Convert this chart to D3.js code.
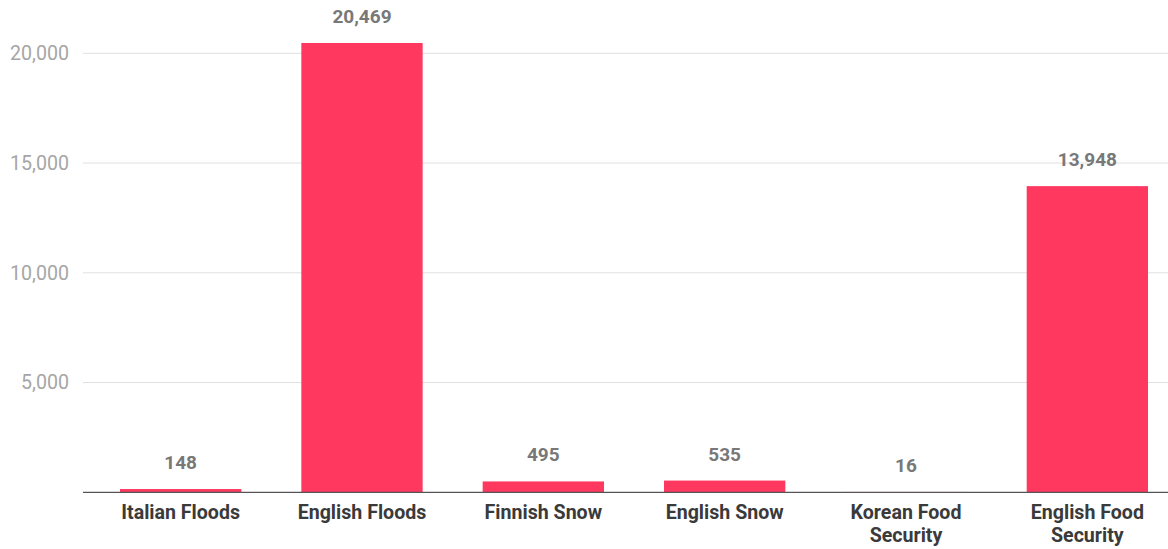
<!DOCTYPE html>
<html>
<head>
<meta charset="utf-8">
<script src="https://cdn.jsdelivr.net/npm/d3@7"></script>
<style>
  html, body { margin: 0; padding: 0; background: #fff; }
  svg { display: block; font-family: Roboto, "Noto Sans", sans-serif; }
</style>
</head>
<body>
<svg id="chart" width="1168" height="549"></svg>
<script>
// Categories (split into display lines) and their counts
const categories = ["Italian Floods", "English Floods", "Finnish Snow", "English Snow", "Korean Food Security", "English Food Security"];
const categoryLines = [["Italian Floods"], ["English Floods"], ["Finnish Snow"], ["English Snow"], ["Korean Food", "Security"], ["English Food", "Security"]];
const values = [148, 20469, 495, 535, 16, 13948];
const yTicks = [5000, 10000, 15000, 20000];

const plotLeft = 83, plotRight = 1168, plotTop = 53.3, plotBottom = 492.3;

const svg = d3.select("#chart");

const x = d3.scaleBand()
  .domain(categories)
  .range([plotLeft, 1185])
  .paddingInner(0.331)
  .paddingOuter(0.204);

const y = d3.scaleLinear()
  .domain([0, 20000])
  .range([plotBottom, plotTop]);

// horizontal gridlines
svg.append("g").selectAll("line")
  .data(yTicks)
  .join("line")
  .attr("x1", plotLeft).attr("x2", plotRight)
  .attr("y1", d => y(d)).attr("y2", d => y(d))
  .attr("stroke", "#e0e0e0").attr("stroke-width", 1);

// y tick labels
const fmt = d3.format(",");
svg.append("g").selectAll("text")
  .data(yTicks)
  .join("text")
  .attr("x", 69).attr("y", d => y(d))
  .attr("dy", "0.35em")
  .attr("text-anchor", "end")
  .attr("fill", "#a6a6a6")
  .attr("font-size", 19.6)
  .text(d => fmt(d));

// bars
svg.append("g").selectAll("rect")
  .data(values)
  .join("rect")
  .attr("x", (d, i) => x(categories[i]))
  .attr("width", x.bandwidth())
  .attr("y", d => y(d))
  .attr("height", d => plotBottom - y(d))
  .attr("fill", "#ff3860");

// baseline
svg.append("line")
  .attr("x1", plotLeft).attr("x2", plotRight)
  .attr("y1", plotBottom).attr("y2", plotBottom)
  .attr("stroke", "#555").attr("stroke-width", 1.3);

// value labels
svg.append("g").selectAll("text")
  .data(values)
  .join("text")
  .attr("x", (d, i) => x(categories[i]) + x.bandwidth() / 2)
  .attr("y", d => y(d) - 20)
  .attr("text-anchor", "middle")
  .attr("fill", "#787878")
  .attr("font-size", 19)
  .attr("font-weight", "bold")
  .text(d => fmt(d));

// category labels
const cat = svg.append("g").selectAll("text")
  .data(categoryLines)
  .join("text")
  .attr("x", (d, i) => x(categories[i]) + x.bandwidth() / 2)
  .attr("y", 518.5)
  .attr("text-anchor", "middle")
  .attr("fill", "#3a3a3a")
  .attr("font-size", 19.6)
  .attr("font-weight", "bold");
cat.each(function (lines, i) {
  d3.select(this).selectAll("tspan")
    .data(lines)
    .join("tspan")
    .attr("x", x(categories[i]) + x.bandwidth() / 2)
    .attr("dy", (l, j) => j === 0 ? 0 : 23.5)
    .text(l => l);
});
</script>
</body>
</html>
